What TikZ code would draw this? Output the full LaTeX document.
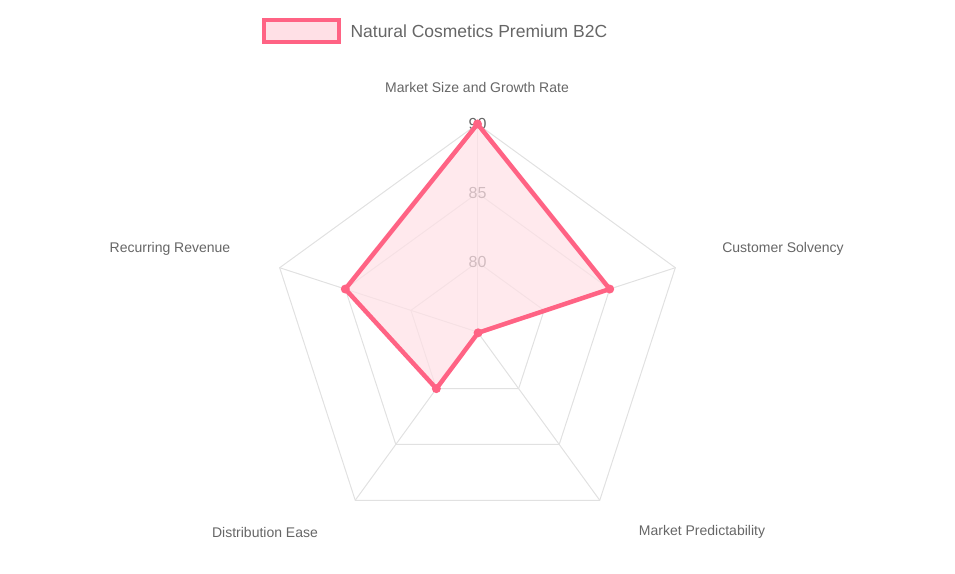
\documentclass[tikz,border=0pt]{standalone}
\usepackage{fontspec}
\setmainfont{Liberation Sans}
\usetikzlibrary{calc}
\definecolor{ser}{RGB}{255,99,132}
\definecolor{serf}{RGB}{255,224,230}
\definecolor{grid}{RGB}{225,225,225}
\definecolor{txt}{RGB}{102,102,102}
\tikzset{gridline/.style={draw=grid,line width=1pt},
axlabel/.style={text=txt,font=\fontsize{14}{16}\selectfont},
ticklabel/.style={text=txt,font=\fontsize{16}{18}\selectfont,fill=white,fill opacity=0.0,text opacity=1,inner sep=1pt},
dot/.style={circle,fill=ser,inner sep=0pt,minimum size=9pt}}
\begin{document}
\begin{tikzpicture}[x=1pt,y=1pt]
\useasboundingbox (0,0) rectangle (955,573);
\coordinate (c) at (477.5,241);
% grid
\foreach \r in {70,139,208}{
  \draw[gridline] ($(c)+(90:\r)$) -- ($(c)+(18:\r)$) -- ($(c)+(-54:\r)$) -- ($(c)+(-126:\r)$) -- ($(c)+(162:\r)$) -- cycle;}
\foreach \a in {90,18,-54,-126,162}{\draw[gridline] (c) -- ($(c)+(\a:208)$);}
% ticks
\node[ticklabel] (t80) at ($(c)+(90:70)$) {80};
\node[ticklabel] (t85) at ($(c)+(90:139)$) {85};
\node[ticklabel] (t90) at ($(c)+(90:208)$) {90};
% data
\coordinate (p1) at ($(c)+(90:208)$);
\coordinate (p2) at ($(c)+(18:139)$);
\coordinate (p3) at ($(c)+(-54:1)$);
\coordinate (p4) at ($(c)+(-126:70)$);
\coordinate (p5) at ($(c)+(162:139)$);
\draw[ser,fill=serf,fill opacity=0.7,line width=4.5pt,line join=round] (p1) -- (p2) -- (p3) -- (p4) -- (p5) -- cycle;
\foreach \p in {p1,p2,p3,p4,p5}{\node[dot] at (\p) {};}
% axis labels
\node[axlabel] (l1) at (477,485) {Market Size and Growth Rate};
\node[axlabel] (l2) at (783,324) {Customer Solvency};
\node[axlabel] (l3) at (702,41) {Market Predictability};
\node[axlabel] (l4) at (265,41) {Distribution Ease};
\node[axlabel] (l5) at (170,324) {Recurring Revenue};
% legend
\draw[ser,fill=serf,line width=4pt] (264,531) rectangle (339,553);
\node[text=txt,anchor=west,font=\fontsize{17.5}{20}\selectfont] (leg) at (347,542) {Natural Cosmetics Premium B2C};
\end{tikzpicture}
\end{document}
